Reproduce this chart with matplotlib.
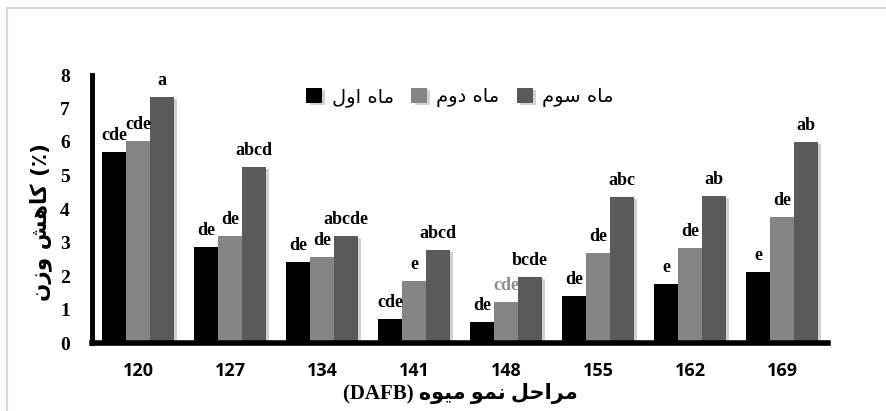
import matplotlib
matplotlib.use('Agg')
import matplotlib.pyplot as plt
import matplotlib.patheffects as pe
import numpy as np
from matplotlib.patches import Rectangle

# fruit development stage (days after full bloom)
stages = ['120', '127', '134', '141', '148', '155', '162', '169']

# weight loss (%) after one, two and three months of storage
month1 = [5.70, 2.87, 2.42, 0.72, 0.63, 1.40, 1.76, 2.12]
month2 = [6.03, 3.19, 2.57, 1.85, 1.22, 2.69, 2.84, 3.76]
month3 = [7.34, 5.25, 3.19, 2.78, 1.97, 4.36, 4.39, 6.00]

# Duncan grouping letters
letters1 = ['cde', 'de', 'de', 'cde', 'de', 'de', 'e', 'e']
letters2 = ['cde', 'de', 'de', 'e', 'cde', 'de', 'de', 'de']
letters3 = ['a', 'abcd', 'abcde', 'abcd', 'bcde', 'abc', 'ab', 'ab']

# Persian words, already shaped (presentation forms) and written in
# visual left-to-right order, because matplotlib does no bidi shaping.
MAH = '\uFEE9\uFE8E\uFEE3'             # ماه
AVAL = '\uFEDD\uFEED\uFE8D'            # اول
DOVOM = '\uFEE1\uFEED\uFEA9'           # دوم
SEVOM = '\uFEE1\uFEEE\uFEB3'           # سوم
KAHESH = '\uFEB6\uFEEB\uFE8E\uFEDB'    # کاهش
VAZN = '\uFEE5\uFEAF\uFEED'            # وزن
MARAHEL = '\uFEDE\uFEA3\uFE8D\uFEAE\uFEE3'  # مراحل
NAMO = '\uFEEE\uFEE4\uFEE7'            # نمو
MIVEH = '\uFEE9\uFEEE\uFEF4\uFEE3'     # میوه

series_names = [AVAL + ' ' + MAH, DOVOM + ' ' + MAH, SEVOM + ' ' + MAH]
ylabel = VAZN + ' ' + KAHESH + ' (\u066A)'
xlabel = '(DAFB) ' + MIVEH + ' ' + NAMO + ' ' + MARAHEL

colors = ['#000000', '#858585', '#5a5a5a']
serif = ['Liberation Serif', 'DejaVu Sans']

fig = plt.figure(figsize=(8.86, 4.11), dpi=100)
ax = fig.add_axes([92 / 886, 68 / 411, 736 / 886, 268 / 411])

# thin grey frame round the figure
fig.patches.append(Rectangle((7 / 886, -0.05), 1.0, (403 / 411) + 0.05,
                             transform=fig.transFigure, fill=False,
                             edgecolor='#d6d6d6', linewidth=1.5))

x = np.arange(len(stages))
w = 0.26
shadow = [pe.SimplePatchShadow(offset=(2.5, -1.5), shadow_rgbFace='#9a9a9a', alpha=0.45),
          pe.Normal()]

all_vals = [month1, month2, month3]
all_letters = [letters1, letters2, letters3]
for i, (vals, labs) in enumerate(zip(all_vals, all_letters)):
    xs = x + (i - 1) * w
    bars = ax.bar(xs, vals, width=w, color=colors[i], label=series_names[i],
                  zorder=2)
    for b in bars:
        b.set_path_effects(shadow)
    for xi, v, lab in zip(xs, vals, labs):
        col = 'black'
        if i == 1 and lab == 'cde' and v < 1.5:
            col = '#8c8c8c'
        ax.annotate(lab, (xi, v), xytext=(0, 6), textcoords='offset points',
                    ha='center', va='bottom', fontsize=13, fontweight='bold',
                    family=serif, color=col, zorder=3)

ax.set_xlim(-0.5, 7.5)
ax.set_ylim(0, 8)
ax.set_yticks(range(0, 9))
ax.set_xticks(x)
ax.set_xticklabels(stages, fontsize=13, fontweight='bold', family='Open Sans')
for t in ax.get_yticklabels():
    t.set_fontsize(14)
    t.set_fontweight('bold')
    t.set_family(serif)
ax.tick_params(axis='both', length=0)
ax.tick_params(axis='x', pad=14)
ax.tick_params(axis='y', pad=16)

for s in ['top', 'right']:
    ax.spines[s].set_visible(False)
ax.spines['left'].set_linewidth(3.5)
ax.spines['bottom'].set_linewidth(4)
ax.spines['bottom'].set_zorder(4)
ax.spines['left'].set_zorder(4)
ax.set_facecolor('none')

fig.text(41 / 886, 1 - 222 / 411, ylabel, rotation=90, ha='center', va='center',
         fontsize=15.5, fontweight='bold', family='DejaVu Sans')
fig.text(460 / 886, 1 - 393 / 411, xlabel, ha='center', va='center',
         fontsize=15, fontweight='bold', family=serif)

fig.legend(loc='center', bbox_to_anchor=(460 / 886, 1 - 97 / 411), ncol=3,
           frameon=False, handlelength=0.8, handleheight=0.8,
           handletextpad=0.5, columnspacing=0.9,
           prop={'family': 'DejaVu Sans', 'size': 14})

fig.savefig('out.png', dpi=100)
